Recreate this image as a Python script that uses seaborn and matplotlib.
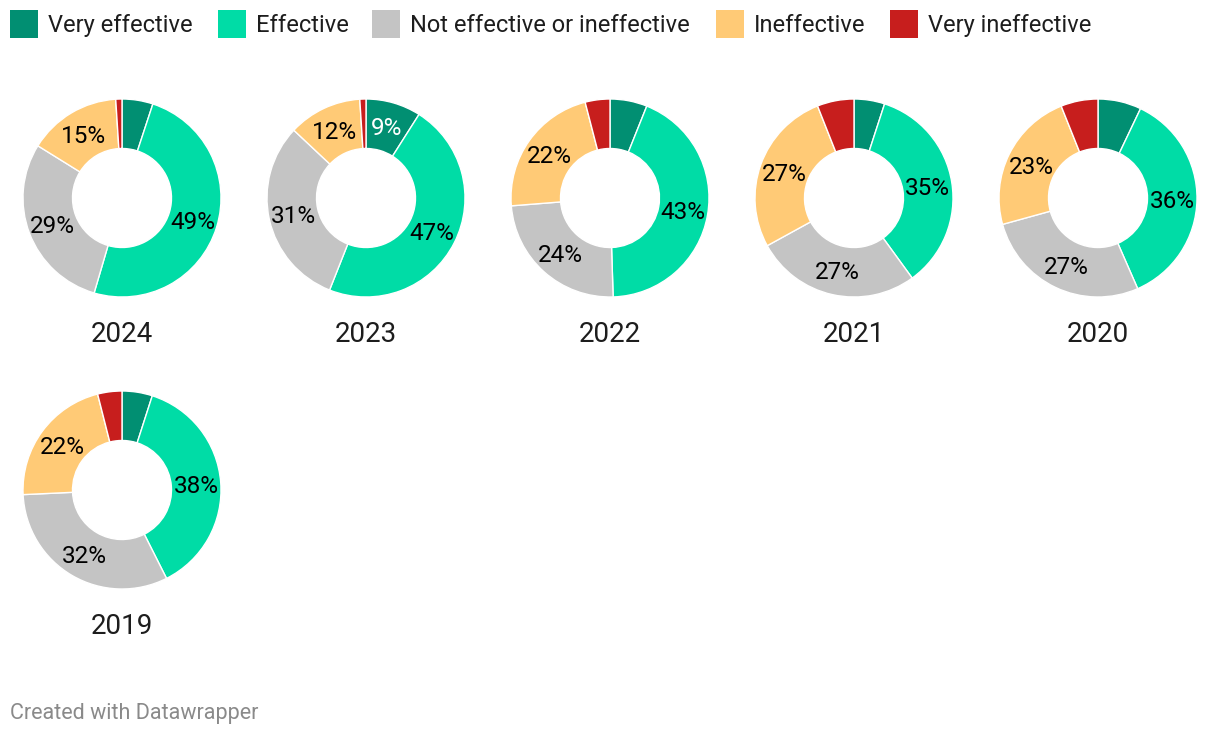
import numpy as np
import matplotlib
matplotlib.use("Agg")
import matplotlib.pyplot as plt
import seaborn as sns
from matplotlib.patches import Rectangle

sns.set_theme(style="white")
plt.rcParams['font.family'] = ['Roboto', 'DejaVu Sans']

years = ["2024", "2023", "2022", "2021", "2020", "2019"]
categories = ["Very effective", "Effective", "Not effective or ineffective",
              "Ineffective", "Very ineffective"]
very_effective = [5, 9, 6, 5, 7, 5]
effective = [49, 47, 43, 35, 36, 38]
not_effective = [29, 31, 24, 27, 27, 32]
ineffective = [15, 12, 22, 27, 23, 22]
very_ineffective = [1, 1, 4, 6, 6, 4]

colors = ["#018f72", "#00dca6", "#c4c4c4", "#ffca76", "#c71e1d"]
label_colors = ["white", "black", "black", "black", "black"]

W, H = 1220, 736
fig = plt.figure(figsize=(W / 100, H / 100), dpi=100)
fig.patch.set_facecolor("white")

# Legend
leg_x = [10, 218, 372, 716, 890]
for x, lab, c in zip(leg_x, categories, colors):
    fig.patches.append(Rectangle((x / W, 1 - 38 / H), 28 / W, 28 / H,
                                 transform=fig.transFigure, facecolor=c,
                                 edgecolor="none"))
    fig.text((x + 38) / W, 1 - 25.5 / H, lab, fontsize=17, color="#1d1d1d",
             va="center", ha="left")

centers_x = [122, 366, 610, 854, 1098]
centers_y = [198, 490]
R = 99

series = [very_effective, effective, not_effective, ineffective, very_ineffective]
for i, yr in enumerate(years):
    cx = centers_x[i % 5]
    cy = centers_y[i // 5]
    vals = [s[i] for s in series]
    ax = fig.add_axes([(cx - R) / W, (H - cy - R) / H, 2 * R / W, 2 * R / H])
    wedges, _ = ax.pie(vals, colors=colors, startangle=90, counterclock=False,
                       radius=1, wedgeprops=dict(width=0.5, edgecolor="white",
                                                 linewidth=1.0))
    for w in wedges:
        w.set_clip_on(False)
    ax.set_xlim(-1, 1)
    ax.set_ylim(-1, 1)
    ax.axis("off")
    for w, v, tc in zip(wedges, vals, label_colors):
        if v >= 8:
            ang = np.deg2rad((w.theta1 + w.theta2) / 2)
            ax.text(0.75 * np.cos(ang), 0.75 * np.sin(ang) - 0.02, f"{v}%",
                    ha="center", va="center", fontsize=17.5, color=tc)
    fig.text(cx / W, 1 - (cy + 137) / H, yr, ha="center", va="center",
             fontsize=20, color="#1d1d1d")

fig.text(10 / W, 1 - 714 / H, "Created with Datawrapper", fontsize=15.5,
         color="#8a8a8a", ha="left", va="center")

fig.savefig("out.png", dpi=100, facecolor="white")
